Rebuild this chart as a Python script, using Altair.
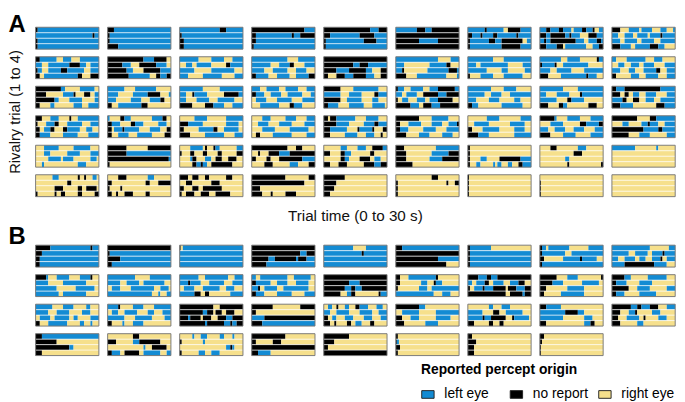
import re
import altair as alt
import pandas as pd

FONT = "Liberation Sans"
STATES = ["left eye", "no report", "right eye"]
COLORS = ["#138bd3", "#000000", "#f6e08c"]
CODE = {"L": "left eye", "N": "no report", "R": "right eye"}

# Each panel: four rivalry trials separated by "|"; each trial is a run-length
# sequence of reported percepts (L = left eye, N = no report, R = right eye) in seconds.
A_ROW1 = [
    "N1L29|L27N1L2|N1L29|N1L29",
    "N3L27|N1L29|N1L29|N5L25",
    "L19N3L8|N1L29|N2L28|N2L28",
    "N25L5|N2L17N1L3N7|N2L28|N1L29",
    "N22L4N4|N3L14N7L6|N1L18N6L5|N1L29",
    "L10N4L3N13|N30|N11L9N10|N30",
    "L8N1L8R2N6L5|N2L4N1L5N2L9N1L6|N1L9N3L3N10R2L2|N1L15N9L5",
    "L3N2L4N2L4R1L4N2L3N1R2L2|N3L2N7L2N1L4R4N4L3|L2N1L2N12L4R2L4N2L1|N3L5N3R1L10R3L3N2",
    "N4R4L5R1L5R4L3R3L1|L3R3L4R2L5R1L5N1L6|L4R2L6R2L6R3L7|N4L5R2L7N4L3R5",
]
A_ROW2 = [
    "N2L8R3L4R4L9|L3R3L10N5L3R2L4|N1L2R3L6N3L8R3L4|N2R2L16N2R4N4",
    "N17L5N6R2|N7L4R4N8L5R2|N9L3R5N8L5|N10L10R3N2L3N2",
    "L9R6L6R4L5|R3L3R2L7R7N2L6|L7R8L11R4|L4R7L9R6L4",
    "L17R5L8|L9R4L5N2R5L5|L6R4L7R4L5R4|N2L6R4L6R3L6N3",
    "N30|N14L3N4L9|N6L6N8L3R4N3|N2R4N4L4N6L4R3N3",
    "L20R6L4|L4R12L8N2R4|L3N1R11L10N4L1|N5R5L14R5L1",
    "L12R5L13|L4R2L13R7L4|L9R7L3R8L3|N1R5L6R5L9R4",
    "L10R3L6R8N1L2|N1L6N1R3L12R7|L5R3L7R6L9|N4R6L12N1L4R3",
    "L2R5L9R4L4R6|R3L3R3L4R2L5R5L5|L4R4L3R4L6N2R3L4|N2R7L4R3L6R4L4",
]
A_ROW3 = [
    "N12L2R7L7R2|N5R8L5N1R4N3R2L2|N9L2R5L6R6L2|N2R5L2R9L4R3L5",
    "L8R5L10R7|L5R7L7N6R4L1|L4R7L5R4L5N2R3|N2R3L11N3R11",
    "L11R8L11|L3R3N1L6R8N7L2|L3R5L6R4L8R4|N6R6N4L5R4L5",
    "L4R3L6R3L6R4L4|N2L4R3L5R3L7R4L2|R2L5R5L7R5L6|R4L9R5N2L4R6",
    "N8R6L12R4|L8R4L6R6N2L4|N8R3L7R5L3R4|N2L5R5L7R4L6R1",
    "N1L3R3L6R3L4N8L2|L3R2L5R3N7L4N6|N1R2L3R4L4R2L4N7R3|N7L4R2N4L4N9",
    "L11R6L6R7|L8R3L5R4L10|L4R6L5R7L3R5|N2L3R11L10R4",
    "L11R7L12|L3R5L6R5N1L10|L8R5N2L6R9|N4R5N2L2R10N4R3",
    "N2L4N17L7|N4R2N2R2L3R3L5R5L4|L5N2R3N3R3L4R3L7|N4L6R11N4L5",
]
A_ROW4 = [
    "N3R4L4R5N1R3L10|N1R4L4N2R4L7R4L4|N2R2L3N2R4N2L6R3L3R3|N2L5R6L7R5L5",
    "L1R5N2L3R10L5N2R2|N2L4R5N2L4R7L4R2|N2R1L4N1L7R5L5R3N2|N2R3L5R4L7R6N3",
    "R7L6R9L8|N4L7R11L6R2|N2R7L7N2R3L7R2|N5R7L9R5L4",
    "R5L4R7L5R5L4|R3L5R5L6R6L5|R5L6R7L9R3|R2N2R6L9R7L4",
    "N2R1N3L9R5L6R4|N6L6R7L5N2L4|N3L8R5N1L6N1R4N2|N3R7L6R4L4R3N1R2",
    "N11R6L8R5|N2R4L6R5L5R3L4N1|N2L4R7L6R5L6|N5R6L5R6L5R3",
    "R9L6R10L5|R3L7R10L7R3|N2R5L8R7L5R3|N5L5R12L8",
    "N7L1R5L6R5L6|R5L6R8N3L6N2|L4R3L5R4L5R5L4|N5R6L6R7L6",
    "N12R6N3L9|R5L3R6L3N1L4R3L5|N15L7N2L6|N8R5L5R8L4",
]
A_ROW5 = [
    "R4L7R7L8R4|R4L3R8L6R5L4|R6L6R1L5R8L3R1|R3L1R16L4R6",
    "N9R10N11|N9L21|N29L1|N1R29",
    "R5L6R1N1R3N1L2R8L3|N1R4N2R4N2R5N2R7N3|R5L1N2R4L3R2N3R3N4R3|R6N2L2N1L2R2N10R5",
    "N17R4N3R6|R3N1R4N5L5N12|N2R5N2R4N11L6|R6N4R8L4R5N3",
    "R8L3R5L4R3N5L2|N3R5N2L3R9N2R6|R8N2L2R5N5R2L3R3|N3R4N4R8N5L3N3",
    "N4R15L11|N5R12L8N5|N5R11L6N8|N8R22",
    "N1R29|N1R29|N1R5L3R6N10L5|N1R3L2R6L1R1L2R3L2R3N2L4",
    "R5N3R10L4R8|R16N4R10|R12L2R16|R13N1R15N1",
    "L11R10L1R8|R30|R30|R30",
]
A_ROW6 = [
    "R8L3R9N1R2N1R3L2R1|R15N2R13|R9N4R7N2R2N5R1|N1R8N1R2N2R6N2R6N2",
    "R5N4R10L3R8|N2R16N2R4N6|N1R5N1R23|N2R2N1R3N4R6N2R10",
    "N4R2N3R3N2R8N3R5|R3N3R9N4R11|N2R4N3R2N9R10|N1R2N4R3N4R3N7R6",
    "N16R11N3|N25R5|N4R26|N5R4N1R6N5R9",
    "N10R20|N6R24|N5R25|N3R27",
    "R17N3R10|N1R23N1R3N2|N1R29|N1R29",
    "N0.6R29.4|N0.6R29.4|N0.6R29.4|N0.6R29.4",
    "R30|N0.5R29.5|N0.5R29.5|N0.5R29.5",
    "R30|R30|R30|R30",
]

B_ROW1 = [
    "N7L19N1L3|N3L27|N2L28|N2L28",
    "N30|N1L29|N6L24|N2L28",
    "N0.5R1L28.5|L30|L30|L30",
    "N30|N23L3N4|N8L3N10L1N4L4|N7L23",
    "L14R6L10|L18N1L11|L30|L30",
    "N3L27|N30|N20L10|N24R6",
    "N1L10R19|N1L29|N1L29|N1L29",
    "N1L2R1L10R9L7|N1L11R3L15|N2R9L8N1L7R3|N1L29",
    "L18R9L3|L8R3L6R2L5N1L5|L3R3L5R2L3R3L4N1R2L4|L6N14L6R4",
]
B_ROW2 = [
    "N5L1R4L6R5L5N1R3|L6R7L11R6|L10R9L9R2|L11R2L11R6",
    "L13R7L10|L6R3L6R2L10R3|R2L4R5L11R3L4R1|L21R3L1R3L2",
    "L9R3L11R3L4|L4N1L5R4L7R4L5|R2L5R4L8R3L4R4|L7N3R2N2R10L6",
    "L2R2L13R3L8R2|N2L7R3L5R4L6R3|L3N1R2L6R3L12R3|N2L4R6L7R6L5",
    "N30|N12L5N13|N10L3N2L3N12|N8R3L2N2R11N1L3",
    "N2R4L13N1R10|N2R10L3R3N1L3R8|N1R10L4R2L13|L18R4L4R4",
    "N5L4N2L3N16|L2R2L4N2R2L5R3L4N3R3|N1R2L4N1L4N6R1N4L4N3|N18R2N6L1N3",
    "N8R5L5R11N1|N6L5R9L8R2|N3R10L8R9|N2R8L11R9",
    "N6L3R8L9R4|N2L5R6L6R11|N8R4L6R8L4|N2L4R7L8R9",
]
B_ROW3 = [
    "L8R5L5R6L2R4|L6R4L6R6L4R4|R2L5R2L7R2L2R6L4|N2R4L9R6L2R3L1R3",
    "L5N1R6L5R5L8|R2L3R3L6R5L3R4L4|L8R5L8R6L3|N2R5L1R4L5R13",
    "N16R3N11|N11L2N3R1N3R2N4R4|N4L1N5R1N4R3N4L3N5|N12L1N8L3N1L2N3",
    "N10R13N7|N2R28|L6N24|N5L25",
    "R2L2R2N1R3L2R3N2L4R4L3R2|L3R3L6R5L6R3L4|N2R2L2R4L4R5L4R4L3|N3R2N1R5N2R2L3R4N2R6",
    "N11L3R16|R3L8R8L11|N3R4L4R8L7R4|N4R10L6R10",
    "R10L2R4L4R10|L7R5N3R3L8R4|L7N1L3N7R3N1L7R1|N3R7N2R3N2R13",
    "N3L7R20|L12N6L3R9|L11R10L4R5|N3R18L3N2R4",
    "N9L3N2L4N4R4L4|N4R4L3N1R7L4R7|N3R4L6R2N1R6L4R4|N4R8L3R15",
]
B_ROW4 = [
    "N3L27|N10R20|N16L2R12|N3R27",
    "R12N3R15|N4R8L3N10R5|R17L1R3N7R2|N2L4R2N7R2L8R3L2",
    "R6L1R3L3R6L2R4L1R4|N1R10L1R18|R22L2N1L1R4|N1R8L3R3L4R11",
    "N16R14|N2R8N4R16|N30|N3L6R21",
    "N12R18|N5R25|N2R28|N30",
    "N1R29|N0.5L1R28.5|N2R28|N1R29",
    "N2R28|N4R26|N3R27|N3R27",
    "N2R28|N1R29|N0.5R29.5|N0.5R29.5",
]

PANEL_A = [A_ROW1, A_ROW2, A_ROW3, A_ROW4, A_ROW5, A_ROW6]
PANEL_B = [B_ROW1, B_ROW2, B_ROW3, B_ROW4]


def build(rows):
    recs = []
    for r, row in enumerate(rows, start=1):
        for c, panel in enumerate(row, start=1):
            for t, trial in enumerate(panel.split("|"), start=1):
                runs = [(k, float(v)) for k, v in re.findall(r"([LNR])([\d.]+)", trial)]
                total = sum(v for _, v in runs)
                pos = 0.0
                for s, (k, v) in enumerate(runs):
                    d = v * 30.0 / total
                    recs.append(dict(prow=r, pcol=c, trial=t, seg=s, start=pos,
                                     end=pos + d, y0=t - 1, y1=t, state=CODE[k]))
                    pos += d
    return pd.DataFrame(recs)


dfA = build(PANEL_A)
dfB = build(PANEL_B)

W, H = 66.5, 23

legend = alt.Legend(
    title="Reported percept origin", orient="none", legendX=405, legendY=353,
    direction="horizontal", titleFont=FONT, titleFontSize=14.5, titleFontWeight="bold",
    titleColor="#000", labelFont=FONT, labelFontSize=14.5, labelColor="#000",
    symbolType="M-1,-0.62L1,-0.62L1,0.62L-1,0.62Z", symbolSize=169,
    symbolStrokeColor="#222", symbolStrokeWidth=1, symbolOpacity=1,
    labelOffset=10, columnPadding=8, gridAlign="all", titlePadding=11, padding=0,
)


def panel(df):
    base = alt.Chart()
    xs = alt.Scale(domain=[0, 30], nice=False, zero=False)
    ys = alt.Scale(domain=[0, 4], nice=False, zero=False, reverse=True)
    rect = base.mark_rect(strokeWidth=0).encode(
        x=alt.X("start:Q", scale=xs, axis=None),
        x2="end:Q",
        y=alt.Y("y0:Q", scale=ys, axis=None),
        y2="y1:Q",
        color=alt.Color("state:N", scale=alt.Scale(domain=STATES, range=COLORS), legend=legend),
    )
    sep = base.transform_filter("datum.seg == 0 && datum.trial > 1").mark_rule(
        color="white", opacity=0.75, strokeWidth=1
    ).encode(y="y0:Q")
    border = base.transform_aggregate(
        bx0="min(start)", bx1="max(end)", by0="min(y0)", by1="max(y1)",
        groupby=["prow", "pcol"],
    ).mark_rect(filled=False, stroke="#777", strokeWidth=1).encode(
        x="bx0:Q", x2="bx1:Q", y="by0:Q", y2="by1:Q"
    )
    return alt.layer(rect, sep, border, data=df).properties(width=W, height=H)


def row_header(color):
    return alt.Header(labels=False, labelPadding=0, title="Rivalry trial (1 to 4)",
                      titleFont=FONT, titleFontSize=15.5, titleFontWeight="normal",
                      titleColor=color, titlePadding=2)


chartA = panel(dfA).facet(
    row=alt.Row("prow:O", header=row_header("#111")),
    column=alt.Column("pcol:O", header=alt.Header(
        labels=False, labelPadding=0, title="Trial time (0 to 30 s)", orient="bottom",
        titleFont=FONT, titleFontSize=16, titleFontWeight="normal", titleColor="#111",
        titlePadding=2)),
    spacing={"row": 6, "column": 6.7},
).properties(title=alt.TitleParams("A", anchor="start", frame="bounds", font=FONT,
                                   fontSize=25, fontWeight="bold", color="#000", offset=-11))

chartB = panel(dfB).facet(
    row=alt.Row("prow:O", header=row_header("transparent")),
    column=alt.Column("pcol:O", title=None, header=alt.Header(labels=False, labelPadding=0)),
    spacing={"row": 6, "column": 6.7},
).properties(title=alt.TitleParams("B", anchor="start", frame="bounds", font=FONT,
                                   fontSize=25, fontWeight="bold", color="#000", offset=-11))

chart = alt.vconcat(chartA, chartB, spacing=0).properties(
    padding={"left": 0, "top": -5, "right": 0, "bottom": 0},
    background="white",
).configure_view(stroke="transparent")

chart.save("out.html", embed_options={"renderer": "svg", "actions": False})
